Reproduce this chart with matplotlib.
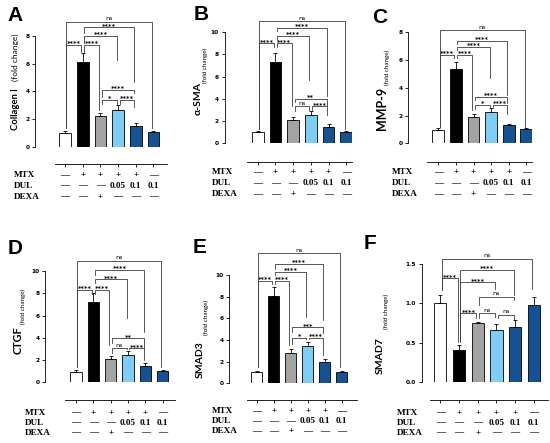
import matplotlib
matplotlib.use("Agg")
import matplotlib.pyplot as plt
from matplotlib.transforms import blended_transform_factory

W, H = 550, 443

# treatment table under every panel
ROW_NAMES = ["MTX", "DUL", "DEXA"]
MTX = ["—", "+", "+", "+", "+", "—"]
DUL = ["—", "—", "—", "0.05", "0.1", "0.1"]
DEXA = ["—", "—", "+", "—", "—", "—"]

# same six groups and same comparisons in every panel
PAIRS = [(0, 5), (1, 4), (1, 3), (0, 1), (1, 2), (2, 4), (2, 3), (3, 4)]

collagen = [1.0, 6.15, 2.22, 2.65, 1.5, 1.05]
collagen_err = [0.1, 0.6, 0.22, 0.33, 0.2, 0.12]
collagen_sig = ["ns", "****", "****", "****", "****", "****", "*", "****"]

asma = [0.97, 7.3, 2.08, 2.52, 1.45, 0.97]
asma_err = [0.08, 0.8, 0.28, 0.35, 0.25, 0.1]
asma_sig = ["ns", "****", "****", "****", "****", "**", "ns", "****"]

mmp9 = [0.97, 5.34, 1.88, 2.28, 1.3, 1.01]
mmp9_err = [0.1, 0.55, 0.22, 0.24, 0.12, 0.12]
mmp9_sig = ["ns", "****", "****", "****", "****", "****", "*", "****"]

ctgf = [0.97, 7.25, 2.07, 2.49, 1.47, 0.99]
ctgf_err = [0.12, 0.8, 0.3, 0.36, 0.23, 0.11]
ctgf_sig = ["ns", "****", "****", "****", "****", "**", "ns", "****"]

smad3 = [1.02, 8.09, 2.83, 3.45, 2.0, 1.0]
smad3_err = [0.11, 0.83, 0.34, 0.4, 0.25, 0.12]
smad3_sig = ["ns", "****", "****", "****", "****", "***", "*", "****"]

smad7 = [1.0, 0.4, 0.745, 0.656, 0.70, 0.98]
smad7_err = [0.107, 0.07, 0.015, 0.077, 0.09, 0.105]
smad7_sig = ["ns", "****", "****", "****", "****", "ns", "ns", "ns"]

COLORS = ["white", "black", "#a3a3a3", "#7fcdf4", "#165291", "#165291"]

# bracket geometry (line height, left leg end, right leg end) in data units
BRK_A = [(9.04, 1.33, 1.33), (8.63, 8.2, 4.7), (8.03, 7.47, 6.27), (7.35, 1.33, 6.87),
         (7.35, 6.87, 2.65), (4.1, 3.57, 3.85), (3.38, 3.1, 3.1), (3.38, 3.1, 2.9)]
BRK_B = [(11.0, 1.25, 1.25), (10.4, 10.1, 4.2), (9.7, 9.3, 5.7), (9.0, 1.25, 8.7),
         (9.0, 8.7, 3.3), (4.0, 3.7, 3.3), (3.3, 2.85, 3.0), (3.3, 3.0, 2.5)]
BRK_C = [(8.13, 1.2, 1.2), (7.4, 7.16, 3.49), (6.97, 6.73, 4.69), (6.37, 1.2, 6.13),
         (6.37, 6.13, 2.4), (3.37, 3.13, 2.9), (2.76, 2.45, 2.64), (2.76, 2.64, 2.1)]
BRK_D = [(10.9, 1.4, 1.4), (10.09, 9.64, 4.55), (9.25, 8.9, 5.75), (8.29, 1.4, 7.95),
         (8.29, 7.95, 3.35), (3.95, 3.5, 3.0), (3.05, 2.6, 2.95), (3.05, 2.95, 2.0)]
BRK_E = [(12.0, 1.55, 1.55), (11.0, 10.6, 5.8), (10.3, 10.0, 6.15), (9.45, 1.55, 9.2),
         (9.45, 9.2, 3.55), (5.17, 4.77, 4.6), (4.2, 3.6, 4.05), (4.2, 4.05, 2.6)]
BRK_F = [(1.567, 1.19, 1.19), (1.43, 0.52, 1.107), (1.27, 0.52, 1.19), (1.32, 1.17, 0.51),
         (0.873, 0.51, 0.81), (1.086, 0.98, 1.04), (0.873, 0.81, 0.83), (0.852, 0.81, 0.80)]

# pixel layout of each panel
LAYOUT = {
    "A": dict(left=35, right=167, x0=65, dx=17.7, base=146.7, unit=13.83, top=6,
              line=164.3, start=55, lab_x=14, rows=(175, 185.7, 196.7), letter=(15, 15.5),
              main_xy=(15, 109), small_xy=(15, 57.5), main_fs=6.8, small_fs=6.0),
    "B": dict(left=224.5, right=352, x0=257.7, dx=17.7, base=142.9, unit=11.05, top=6,
              line=161.7, start=246.7, lab_x=211.7, rows=(172.3, 183.3, 194), letter=(201, 14.5),
              main_xy=(198, 98.5), small_xy=(205, 65.5), main_fs=7.5, small_fs=4.5),
    "C": dict(left=408.3, right=532, x0=438.3, dx=17.6, base=143.3, unit=13.875, top=6,
              line=161.7, start=426.7, lab_x=391.7, rows=(172.3, 183.3, 194), letter=(379.5, 17.5),
              main_xy=(382, 108), small_xy=(387, 67.5), main_fs=9.0, small_fs=4.5),
    "D": dict(left=45, right=175, x0=76, dx=17.35, base=382.3, unit=11.13, top=240,
              line=400, start=65, lab_x=25, rows=(412.7, 422.7, 432.7), letter=(15, 249),
              main_xy=(18, 340.5), small_xy=(23, 306.5), main_fs=7.8, small_fs=4.5),
    "E": dict(left=229, right=357, x0=256.7, dx=17.0, base=383.3, unit=10.83, top=240,
              line=400, start=246.7, lab_x=211.7, rows=(411, 421, 431), letter=(200, 247.5),
              main_xy=(200, 360), small_xy=(206, 317.5), main_fs=7.5, small_fs=4.5),
    "F": dict(left=421.7, right=548, x0=440.3, dx=18.7, base=381.7, unit=78.3, top=240,
              line=400, start=430, lab_x=396.7, rows=(412.7, 422.7, 432.7), letter=(370, 243),
              main_xy=(380, 356), small_xy=(386, 311.5), main_fs=7.5, small_fs=4.5),
}

LABEL_FONT = ["Lato", "DejaVu Sans"]
TABLE_FONT = ["Liberation Serif", "DejaVu Serif"]


def fx(px):
    return px / W


def fy(py):
    return 1 - py / H


def draw_panel(fig, key, vals, errs, sig, brk, name, yticks, yticklabels):
    lay = LAYOUT[key]
    left, right, x0, dx = lay["left"], lay["right"], lay["x0"], lay["dx"]
    base, top, unit = lay["base"], lay["top"], lay["unit"]

    ax = fig.add_axes([fx(left), fy(base), (right - left) / W, (base - top) / H])
    ax.set_facecolor("none")
    ax.set_xlim((left - x0) / dx, (right - x0) / dx)
    ax.set_ylim(0, (base - top) / unit)

    xs = list(range(len(vals)))
    ax.bar(xs, vals, width=0.66, color=COLORS, edgecolor="black", linewidth=0.6, zorder=2)
    ax.errorbar(xs, vals, yerr=[[0] * len(vals), errs], fmt="none", ecolor="black",
                elinewidth=0.6, capsize=1.5, capthick=0.6, zorder=3)

    for s in ["top", "right"]:
        ax.spines[s].set_visible(False)
    ax.spines["left"].set_bounds(yticks[0], yticks[-1])
    ax.spines["left"].set_linewidth(0.6)
    ax.spines["bottom"].set_position(("outward", (lay["line"] - base) * 0.72))
    ax.spines["bottom"].set_bounds((lay["start"] - x0) / dx, (right - x0) / dx)
    ax.spines["bottom"].set_linewidth(0.6)

    ax.set_xticks(xs)
    ax.set_xticklabels([])
    ax.tick_params(axis="x", direction="out", length=2.5, width=0.6)
    ax.set_yticks(yticks)
    ax.set_yticklabels(yticklabels, fontsize=4.2, fontweight="bold")
    ax.tick_params(axis="y", direction="out", length=2.5, width=0.6, pad=1.5)

    # significance brackets
    s = 0.08
    for (i, j), lab, (y, yl, yr) in zip(PAIRS, sig, brk):
        xi, xj = i + s, j - s
        ax.plot([xi, xi, xj, xj], [yl, y, y, yr], color="#3c3c3c", lw=0.6,
                clip_on=False, zorder=4)
        if lab == "ns":
            ax.annotate(lab, ((i + j) / 2, y), xytext=(0, 1.3), textcoords="offset points",
                        ha="center", va="baseline", fontsize=4.6, annotation_clip=False)
        else:
            ax.annotate(lab, ((i + j) / 2, y), xytext=(0, -0.9), textcoords="offset points",
                        ha="center", va="baseline", fontsize=4.8, fontweight="bold",
                        annotation_clip=False)

    # treatment table
    trans = blended_transform_factory(ax.transData, fig.transFigure)
    for row_name, row_vals, ry in zip(ROW_NAMES, [MTX, DUL, DEXA], lay["rows"]):
        fig.text(fx(lay["lab_x"]), fy(ry), row_name, ha="left", va="center",
                 fontsize=6.6, fontweight="bold", family=TABLE_FONT)
        for i, v in enumerate(row_vals):
            ax.text(i, fy(ry), v, transform=trans, ha="center", va="center",
                    fontsize=6.6, fontweight="bold", family=TABLE_FONT, clip_on=False)

    # y label: marker name + "(fold change)"
    mx, my = lay["main_xy"]
    fig.text(fx(mx), fy(my), name, rotation=90, ha="center", va="center",
             fontsize=lay["main_fs"], fontweight="bold", family=LABEL_FONT)
    sx, sy = lay["small_xy"]
    fig.text(fx(sx), fy(sy), "(fold change)", rotation=90, ha="center", va="center",
             fontsize=lay["small_fs"], family=LABEL_FONT)

    lx, ly = lay["letter"]
    fig.text(fx(lx), fy(ly), key, ha="center", va="center", fontsize=15,
             fontweight="bold", family=["Liberation Sans", "DejaVu Sans"])
    return ax


fig = plt.figure(figsize=(W / 100, H / 100), dpi=100)
fig.patch.set_facecolor("white")

t8 = [0, 2, 4, 6, 8]
t10 = [0, 2, 4, 6, 8, 10]
draw_panel(fig, "A", collagen, collagen_err, collagen_sig, BRK_A, "Collagen I", t8, [str(t) for t in t8])
draw_panel(fig, "B", asma, asma_err, asma_sig, BRK_B, "α-SMA", t10, [str(t) for t in t10])
draw_panel(fig, "C", mmp9, mmp9_err, mmp9_sig, BRK_C, "MMP-9", t8, [str(t) for t in t8])
draw_panel(fig, "D", ctgf, ctgf_err, ctgf_sig, BRK_D, "CTGF", t10, [str(t) for t in t10])
draw_panel(fig, "E", smad3, smad3_err, smad3_sig, BRK_E, "SMAD3", t10, [str(t) for t in t10])
draw_panel(fig, "F", smad7, smad7_err, smad7_sig, BRK_F, "SMAD7", [0, 0.5, 1.0, 1.5],
           ["0.0", "0.5", "1.0", "1.5"])

fig.savefig("out.png", dpi=100)
